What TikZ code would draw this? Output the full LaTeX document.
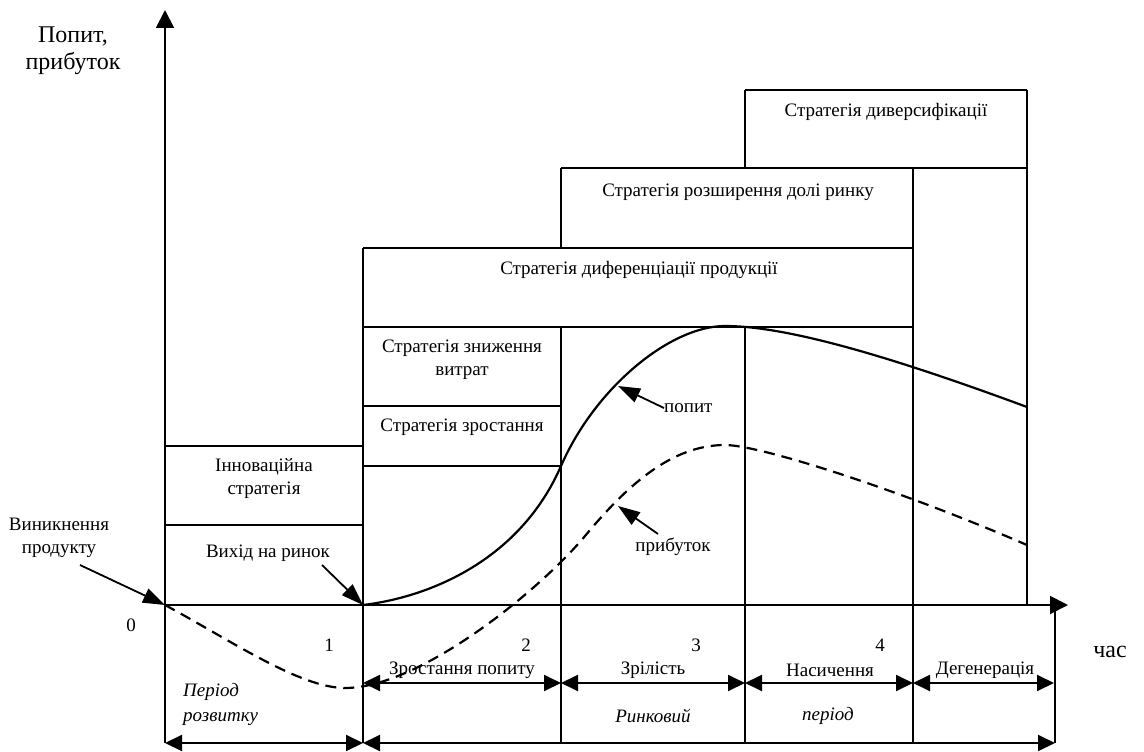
\documentclass[tikz,border=0pt]{standalone}
\usepackage{fontspec}
\setmainfont{Liberation Serif}
\usetikzlibrary{arrows.meta}

\begin{document}
\begin{tikzpicture}[x=1pt,y=-1pt,
  frame/.style={line width=1.9pt},
  axis/.style={line width=1.9pt,-{Triangle[length=18pt,width=18pt]}},
  dim/.style={line width=1.9pt,{Triangle[length=17pt,width=16pt]}-{Triangle[length=17pt,width=16pt]}},
  pointer/.style={line width=1.8pt,-{Triangle[length=22pt,width=15pt]}},
  demand/.style={line width=2.2pt},
  profit/.style={line width=2.2pt,dash pattern=on 11pt off 7pt},
  lbl/.style={font=\fontsize{19}{23}\selectfont,inner sep=0pt,align=center},
  biglbl/.style={font=\fontsize{24}{27}\selectfont,inner sep=0pt,align=center},
  per/.style={lbl,font=\fontsize{19}{25}\selectfont\itshape}]
\useasboundingbox (0,0) rectangle (1144,752);

% key points
\coordinate (O)    at (165,605);
\coordinate (Ytip) at (165,10);
\coordinate (Ybot) at (165,743);
\coordinate (Xtip) at (1068,605);
\coordinate (M)    at (363,605);

% axes
\draw[axis] (Ybot) -- (Ytip);
\draw[axis] (O) -- (Xtip);

% strategy boxes and stage boundaries
\draw[frame] (165,446) -- (363,446);
\draw[frame] (165,525) -- (363,525);
\draw[frame] (363,406) -- (561,406);
\draw[frame] (363,466) -- (561,466);
\draw[frame] (363,327) -- (913,327);
\draw[frame] (363,248) -- (913,248);
\draw[frame] (561,168) -- (1027,168);
\draw[frame] (745,90) -- (1027,90);
\draw[frame] (363,248) -- (363,743);
\draw[frame] (561,168) -- (561,248) (561,327) -- (561,743);
\draw[frame] (745,90) -- (745,168) (745,327) -- (745,743);
\draw[frame] (913,168) -- (913,743);
\draw[frame] (1027,90) -- (1027,605);
\draw[frame] (1055,605) -- (1055,743);

% demand curve
\draw[demand] (M) .. controls (430,597) and (520,560) .. (561,466)
                  .. controls (595,388) and (670,326) .. (725,326)
                  .. controls (790,326) and (900,360) .. (1027,407);
% profit curve
\draw[profit] (O) .. controls (230,640) and (300,688) .. (345,688)
                  .. controls (420,688) and (540,590) .. (585,536)
                  .. controls (625,488) and (670,445) .. (725,445)
                  .. controls (760,445) and (900,490) .. (1027,545);

% strategy labels
\node[lbl] (div)  at (886,112) {Стратегія диверсифікації};
\node[lbl] (exp)  at (738,192) {Стратегія розширення долі ринку};
\node[lbl] (dif)  at (639,270) {Стратегія диференціації продукції};
\node[lbl] (cost) at (462,360) {Стратегія зниження\\витрат};
\node[lbl] (grow) at (462,427) {Стратегія зростання};
\node[lbl] (inno) at (264,479) {Інноваційна\\стратегія};
\node[lbl] (entry) at (268,553) {Вихід на ринок};
\node[lbl] (orig) at (59,538) {Виникнення\\продукту};

% axis labels
\node[biglbl] (ylab) at (73,51) {Попит,\\прибуток};
\node[biglbl] (xlab) at (1110,652) {час};

% curve labels and pointers
\node[lbl,anchor=west] (dlab) at (664,408) {попит};
\node[lbl] (plab) at (673,547) {прибуток};
\coordinate (dpt) at (618,386);
\coordinate (ppt) at (618,506);
\coordinate (otail) at (80,565);
\coordinate (etail) at (322,565);
\draw[pointer] (dlab.west) -- (dpt);
\draw[pointer] (plab.north) ++(-15,-4) -- (ppt);
\draw[pointer] (otail) -- (O);
\draw[pointer] (etail) -- (M);

% stage numbers
\node[lbl] (n0) at (131,625) {0};
\node[lbl] (n1) at (329,645) {1};
\node[lbl] (n2) at (526,645) {2};
\node[lbl] (n3) at (696,645) {3};
\node[lbl] (n4) at (880,645) {4};

% stages
\coordinate (s1) at (363,683);
\coordinate (s2) at (561,683);
\coordinate (s3) at (745,683);
\coordinate (s4) at (913,683);
\coordinate (s5) at (1054,683);
\draw[dim] (s1) -- (s2);
\draw[dim] (s2) -- (s3);
\draw[dim] (s3) -- (s4);
\draw[dim] (s4) -- (s5);
\node[lbl] (g)  at (462,670) {Зростання попиту};
\node[lbl] (m)  at (653,670) {Зрілість};
\node[lbl] (sat) at (830,670) {Насичення};
\node[lbl] (deg) at (985,670) {Дегенерація};

% periods
\coordinate (p0) at (165,743);
\coordinate (p1) at (363,743);
\coordinate (p2) at (1055,743);
\draw[dim] (p0) -- (p1);
\draw[dim] (p1) -- (p2);
\node[per,anchor=west,align=left] (dev) at (183,704) {Період\\розвитку};
\node[per] (mk1) at (653,716) {Ринковий};
\node[per] (mk2) at (828,716) {період};
\end{tikzpicture}
\end{document}
